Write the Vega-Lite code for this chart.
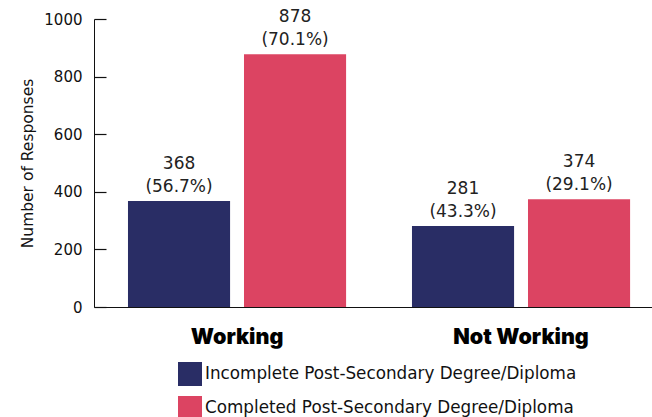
{
  "$schema": "https://vega.github.io/schema/vega-lite/v6.json",
  "autosize": "none",
  "width": 558,
  "height": 288,
  "padding": {"left": 94, "top": 19, "right": 0, "bottom": 110},
  "background": "white",
  "config": {"view": {"stroke": null}, "font": "DejaVu Sans"},
  "data": {"values": [
    {"group": "Working", "category": "Incomplete Post-Secondary Degree/Diploma", "value": 368, "label": "368\n(56.7%)"},
    {"group": "Working", "category": "Completed Post-Secondary Degree/Diploma", "value": 878, "label": "878\n(70.1%)"},
    {"group": "Not Working", "category": "Incomplete Post-Secondary Degree/Diploma", "value": 281, "label": "281\n(43.3%)"},
    {"group": "Not Working", "category": "Completed Post-Secondary Degree/Diploma", "value": 374, "label": "374\n(29.1%)"}
  ]},
  "encoding": {
    "x": {"field": "group", "type": "nominal", "sort": ["Working", "Not Working"],
      "scale": {"paddingInner": 0.232, "paddingOuter": 0.0984, "align": 0.608},
      "axis": {"title": null, "labelAngle": 0, "ticks": false, "domain": true, "domainColor": "#111", "domainWidth": 1,
        "labelFontSize": 21.5, "labelFont": "Inter", "labelFontWeight": 900, "labelColor": "#000", "labelPadding": 19}},
    "xOffset": {"field": "category", "type": "nominal",
      "sort": ["Incomplete Post-Secondary Degree/Diploma", "Completed Post-Secondary Degree/Diploma"],
      "scale": {"paddingInner": 0.12, "paddingOuter": 0}},
    "y": {"field": "value", "type": "quantitative",
      "scale": {"domain": [0, 1000]},
      "axis": {"title": "Number of Responses", "values": [0, 200, 400, 600, 800, 1000], "format": "d", "grid": false,
        "domainColor": "#111", "ticks": true, "tickColor": "#111", "tickSize": -12, "tickWidth": 1.2, "tickOpacity": 1, "labelPadding": 24,
        "labelFontSize": 15, "labelColor": "#111", "titleFontSize": 15.5, "titleFontWeight": "normal", "titleColor": "#111", "titlePadding": 8}}
  },
  "layer": [
    {
      "mark": {"type": "bar"},
      "encoding": {
        "color": {"field": "category", "type": "nominal",
          "sort": ["Incomplete Post-Secondary Degree/Diploma", "Completed Post-Secondary Degree/Diploma"],
          "scale": {"range": ["#292d65", "#dc4462"]},
          "legend": {"title": null, "orient": "none", "legendX": 84, "legendY": 343, "direction": "vertical",
            "symbolType": "square", "symbolSize": 576, "symbolStrokeWidth": 0, "symbolOpacity": 1,
            "labelFontSize": 16.8, "labelColor": "#111", "labelOffset": 3, "rowPadding": 10, "labelLimit": 500}}
      }
    },
    {
      "mark": {"type": "text", "baseline": "bottom", "dy": -28, "lineBreak": "\n", "fontSize": 17, "lineHeight": 23, "color": "#222"},
      "encoding": {"text": {"field": "label"}}
    }
  ]
}
